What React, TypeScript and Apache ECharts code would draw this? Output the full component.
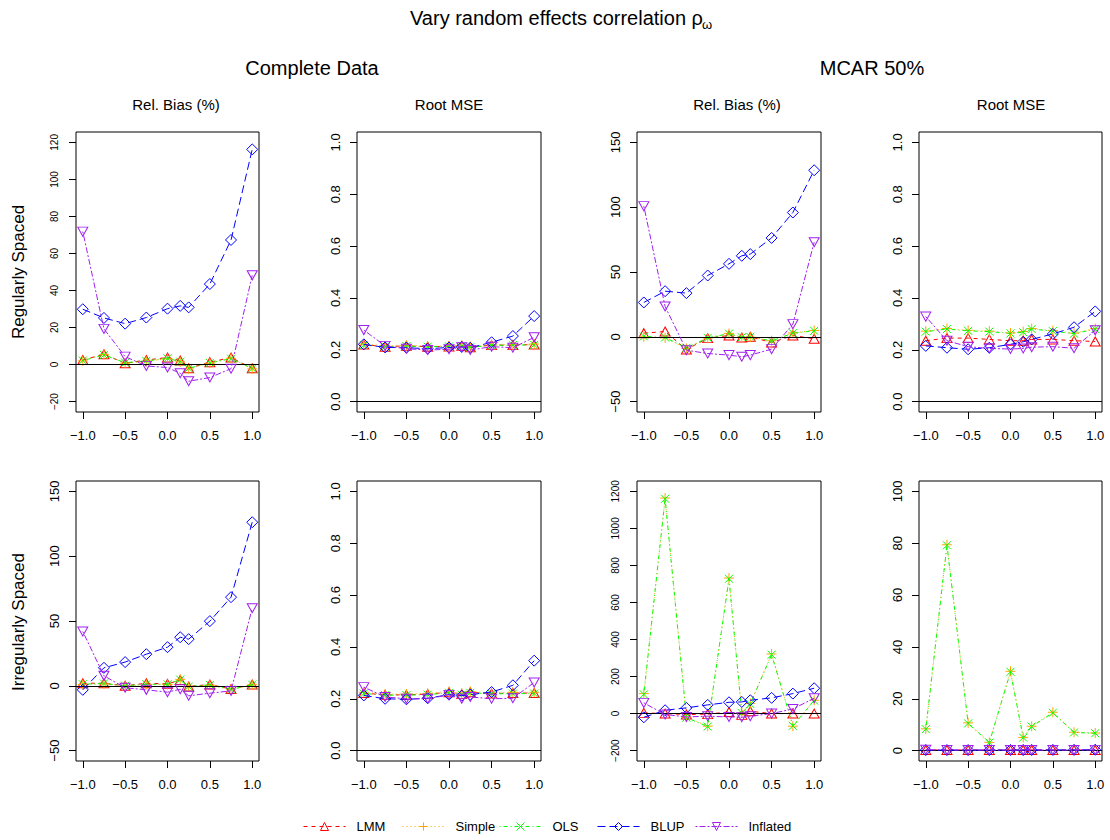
import React, { useEffect, useRef } from 'react';
import * as echarts from 'echarts';

// correlation values on the x axis
const rho = [-1, -0.75, -0.5, -0.25, 0, 0.15, 0.25, 0.5, 0.75, 1];
const methods = ['LMM', 'Simple', 'OLS', 'BLUP', 'Inflated'];

// Complete data, regularly spaced: relative bias (%)
const biasCompReg_LMM = [2.5, 5.6, 0.7, 2.5, 3.8, 2.2, -2.0, 1.3, 3.8, -2.0];
const biasCompReg_Simple = [2.0, 5.5, 0.8, 1.8, 3.2, 1.5, -2.3, 0.8, 3.4, -2.3];
const biasCompReg_OLS = [2.2, 5.2, 1.0, 2.0, 3.4, 1.6, -2.0, 0.9, 3.2, -2.1];
const biasCompReg_BLUP = [29.9, 25.2, 22.1, 25.4, 30.2, 31.7, 30.9, 43.5, 67.3, 116.2];
const biasCompReg_Inflated = [71.8, 19.3, 4.3, -0.7, -1.6, -4.7, -9.0, -7.0, -2.2, 48.2];

// Complete data, regularly spaced: root MSE
const rmseCompReg_LMM = [0.220, 0.212, 0.215, 0.212, 0.213, 0.215, 0.210, 0.218, 0.218, 0.220];
const rmseCompReg_Simple = [0.222, 0.215, 0.217, 0.214, 0.215, 0.217, 0.212, 0.220, 0.220, 0.222];
const rmseCompReg_OLS = [0.218, 0.212, 0.214, 0.212, 0.213, 0.214, 0.210, 0.217, 0.218, 0.219];
const rmseCompReg_BLUP = [0.221, 0.209, 0.208, 0.204, 0.209, 0.211, 0.208, 0.229, 0.253, 0.330];
const rmseCompReg_Inflated = [0.276, 0.215, 0.204, 0.199, 0.202, 0.210, 0.199, 0.212, 0.208, 0.248];

// MCAR 50%, regularly spaced: relative bias (%)
const biasMcarReg_LMM = [2.8, 4.1, -9.8, -1.0, 1.0, -0.5, 0.0, -4.4, 1.0, -1.5];
const biasMcarReg_Simple = [0.0, -0.8, -9.0, -1.0, 2.6, -0.5, -0.3, -3.0, 3.0, 4.9];
const biasMcarReg_OLS = [0.3, -0.5, -8.5, -0.8, 2.4, -0.3, 0.0, -3.2, 2.8, 4.6];
const biasMcarReg_BLUP = [26.5, 35.2, 33.7, 47.3, 56.3, 62.5, 63.8, 76.3, 95.9, 128.5];
const biasMcarReg_Inflated = [100.8, 23.4, -10.3, -12.9, -14.1, -15.4, -14.1, -9.5, 9.8, 73.0];

// MCAR 50%, regularly spaced: root MSE
const rmseMcarReg_LMM = [0.235, 0.245, 0.245, 0.240, 0.235, 0.235, 0.240, 0.240, 0.235, 0.232];
const rmseMcarReg_Simple = [0.272, 0.282, 0.275, 0.272, 0.265, 0.270, 0.282, 0.274, 0.264, 0.282];
const rmseMcarReg_OLS = [0.270, 0.280, 0.273, 0.270, 0.263, 0.268, 0.280, 0.272, 0.262, 0.280];
const rmseMcarReg_BLUP = [0.215, 0.208, 0.202, 0.208, 0.221, 0.231, 0.240, 0.261, 0.287, 0.348];
const rmseMcarReg_Inflated = [0.328, 0.235, 0.212, 0.205, 0.203, 0.205, 0.210, 0.212, 0.206, 0.275];

// Complete data, irregularly spaced: relative bias (%)
const biasCompIrr_LMM = [2.0, 2.0, 0.0, 2.0, 1.5, 4.5, -0.5, 1.0, -2.5, 1.0];
const biasCompIrr_Simple = [1.0, 1.5, -0.3, 1.0, 1.0, 5.0, -0.8, 0.5, -3.0, 0.8];
const biasCompIrr_OLS = [1.2, 1.8, 0.0, 1.2, 1.2, 4.8, -0.6, 0.7, -2.8, 0.9];
const biasCompIrr_BLUP = [-3.1, 13.9, 18.3, 24.4, 29.8, 37.5, 36.0, 49.9, 68.4, 126.2];
const biasCompIrr_Inflated = [41.9, 7.7, -1.5, -3.1, -4.9, -2.6, -7.7, -5.7, -3.9, 59.9];

// Complete data, irregularly spaced: root MSE
const rmseCompIrr_LMM = [0.222, 0.215, 0.215, 0.218, 0.225, 0.218, 0.225, 0.220, 0.222, 0.222];
const rmseCompIrr_Simple = [0.225, 0.218, 0.218, 0.221, 0.228, 0.221, 0.228, 0.223, 0.225, 0.225];
const rmseCompIrr_OLS = [0.220, 0.214, 0.214, 0.216, 0.223, 0.216, 0.223, 0.219, 0.220, 0.220];
const rmseCompIrr_BLUP = [0.213, 0.200, 0.198, 0.202, 0.216, 0.212, 0.216, 0.226, 0.252, 0.347];
const rmseCompIrr_Inflated = [0.245, 0.207, 0.200, 0.200, 0.215, 0.200, 0.207, 0.200, 0.202, 0.263];

// MCAR 50%, irregularly spaced: relative bias (%)
const biasMcarIrr_LMM = [4, 0, -5, -3, 9, -7, 13, 0, 0, 0];
const biasMcarIrr_Simple = [108, 1164, -20, -68, 732, 5, 55, 322, -68, 72];
const biasMcarIrr_OLS = [104, 1160, -22, -70, 728, 3, 52, 318, -66, 70];
const biasMcarIrr_BLUP = [-20, 18, 31, 47, 61, 63, 72, 85, 108, 137];
const biasMcarIrr_Inflated = [58, -5, -18, -14, -18, -20, -14, 0, 25, 83];

// MCAR 50%, irregularly spaced: root MSE
const rmseMcarIrr_LMM = [0.24, 0.25, 0.25, 0.24, 0.24, 0.24, 0.25, 0.24, 0.24, 0.23];
const rmseMcarIrr_Simple = [8.4, 79.4, 10.7, 3.2, 30.6, 5.1, 9.4, 14.8, 7.1, 6.8];
const rmseMcarIrr_OLS = [8.3, 79.2, 10.5, 3.1, 30.4, 5.0, 9.3, 14.6, 7.0, 6.7];
const rmseMcarIrr_BLUP = [0.22, 0.21, 0.21, 0.22, 0.23, 0.24, 0.25, 0.27, 0.30, 0.36];
const rmseMcarIrr_Inflated = [0.34, 0.24, 0.22, 0.21, 0.21, 0.21, 0.22, 0.22, 0.21, 0.29];

// y tick labels of each panel
const ticksBiasCompReg = [-20, 0, 20, 40, 60, 80, 100, 120];
const ticksBias150 = [-50, 0, 50, 100, 150];
const ticksRmse = [0, 0.2, 0.4, 0.6, 0.8, 1.0];
const ticksBiasMcarIrr = [-200, 0, 200, 400, 600, 800, 1000, 1200];
const ticksRmseMcarIrr = [0, 20, 40, 60, 80, 100];
const ticksX = [-1, -0.5, 0, 0.5, 1];

const FONT = '"Liberation Sans", Arial, Helvetica, sans-serif';

const colors: Record<string, string> = {
  LMM: '#FF0000', Simple: '#FFA500', OLS: '#00FF00', BLUP: '#0000FF', Inflated: '#A020F0',
};
const symbols: Record<string, string> = {
  LMM: 'path://M5,0L10,8.66L0,8.66Z',
  Simple: 'path://M5,0L5,10M0,5L10,5',
  OLS: 'path://M0,0L10,10M10,0L0,10',
  BLUP: 'path://M5,0L10,5L5,10L0,5Z',
  Inflated: 'path://M0,0L10,0L5,8.66Z',
};
const symbolSizes: Record<string, any> = {
  LMM: [10, 9], Simple: 10, OLS: 8, BLUP: 11, Inflated: [10, 9],
};
const dashes: Record<string, number[]> = {
  LMM: [4, 4], Simple: [1, 3], OLS: [1, 3, 4, 3], BLUP: [8, 4], Inflated: [2, 2, 6, 2],
};

const COLS = [76, 357, 637, 919];
const WIDTHS = [183, 184, 184, 183];
const ROWS = [132, 481];
const H = 280;

const panels = [
  { r: 0, c: 0, min: -25.6, max: 125.6, ticks: ticksBiasCompReg, dec: 0, fs: 10, margin: 17,
    d: [biasCompReg_LMM, biasCompReg_Simple, biasCompReg_OLS, biasCompReg_BLUP, biasCompReg_Inflated] },
  { r: 0, c: 1, min: -0.04, max: 1.04, ticks: ticksRmse, dec: 1, fs: 13, margin: 15,
    d: [rmseCompReg_LMM, rmseCompReg_Simple, rmseCompReg_OLS, rmseCompReg_BLUP, rmseCompReg_Inflated] },
  { r: 0, c: 2, min: -58, max: 158, ticks: ticksBias150, dec: 0, fs: 13, margin: 15,
    d: [biasMcarReg_LMM, biasMcarReg_Simple, biasMcarReg_OLS, biasMcarReg_BLUP, biasMcarReg_Inflated] },
  { r: 0, c: 3, min: -0.04, max: 1.04, ticks: ticksRmse, dec: 1, fs: 13, margin: 15,
    d: [rmseMcarReg_LMM, rmseMcarReg_Simple, rmseMcarReg_OLS, rmseMcarReg_BLUP, rmseMcarReg_Inflated] },
  { r: 1, c: 0, min: -58, max: 158, ticks: ticksBias150, dec: 0, fs: 13, margin: 15,
    d: [biasCompIrr_LMM, biasCompIrr_Simple, biasCompIrr_OLS, biasCompIrr_BLUP, biasCompIrr_Inflated] },
  { r: 1, c: 1, min: -0.04, max: 1.04, ticks: ticksRmse, dec: 1, fs: 13, margin: 15,
    d: [rmseCompIrr_LMM, rmseCompIrr_Simple, rmseCompIrr_OLS, rmseCompIrr_BLUP, rmseCompIrr_Inflated] },
  { r: 1, c: 2, min: -256, max: 1256, ticks: ticksBiasMcarIrr, dec: 0, fs: 10, margin: 17,
    d: [biasMcarIrr_LMM, biasMcarIrr_Simple, biasMcarIrr_OLS, biasMcarIrr_BLUP, biasMcarIrr_Inflated] },
  { r: 1, c: 3, min: -4, max: 104, ticks: ticksRmseMcarIrr, dec: 0, fs: 13, margin: 15,
    d: [rmseMcarIrr_LMM, rmseMcarIrr_Simple, rmseMcarIrr_OLS, rmseMcarIrr_BLUP, rmseMcarIrr_Inflated] },
];

const fmt = (v: number, dec: number) => (dec ? v.toFixed(dec) : String(Math.round(v))).replace('-', '\u2212');

const legendLeft = [303, 402, 499, 597, 695];

function buildOption() {
  const grid: any[] = [];
  const xAxis: any[] = [];
  const yAxis: any[] = [];
  const series: any[] = [];
  panels.forEach((p, i) => {
    grid.push({
      left: COLS[p.c], top: ROWS[p.r], width: WIDTHS[p.c], height: H,
      show: true, borderColor: '#000', borderWidth: 1, backgroundColor: 'transparent',
      containLabel: false,
    });
    xAxis.push({
      type: 'value', gridIndex: i, min: -1.08, max: 1.08, position: 'bottom',
      axisLine: { show: false, onZero: false },
      splitLine: { show: false },
      axisTick: { show: true, inside: false, length: 7, customValues: ticksX, lineStyle: { color: '#000' } },
      axisLabel: {
        show: true, customValues: ticksX, margin: 17, fontSize: 13, color: '#000', fontFamily: FONT,
        formatter: (v: number) => fmt(v, 1),
      },
    });
    yAxis.push({
      type: 'value', gridIndex: i, min: p.min, max: p.max, position: 'left',
      axisLine: { show: false, onZero: false },
      splitLine: { show: false },
      axisTick: { show: true, inside: false, length: 7, customValues: p.ticks, lineStyle: { color: '#000' } },
      axisLabel: {
        show: true, customValues: p.ticks, rotate: 90, margin: p.margin, fontSize: p.fs, color: '#000', fontFamily: FONT,
        formatter: (v: number) => fmt(v, p.dec),
      },
    });
    methods.forEach((m, k) => {
      const s: any = {
        name: m, type: 'line', xAxisIndex: i, yAxisIndex: i,
        data: rho.map((x, j) => [x, p.d[k][j]]),
        symbol: symbols[m], symbolSize: symbolSizes[m], showSymbol: true,
        lineStyle: { color: colors[m], width: 1, type: dashes[m] },
        itemStyle: { color: 'rgba(0,0,0,0)', borderColor: colors[m], borderWidth: 1 },
        emphasis: { disabled: true },
        silent: true,
        z: 2 + k,
      };
      if (k === 0) {
        s.markLine = {
          silent: true, symbol: ['none', 'none'], label: { show: false },
          lineStyle: { color: '#000', type: 'solid', width: 1 },
          emphasis: { disabled: true },
          data: [{ yAxis: 0 }],
        };
      }
      series.push(s);
    });
  });

  const legend = methods.map((m, k) => ({
    data: [m], left: legendLeft[k], top: 820, orient: 'horizontal',
    itemWidth: 42, itemHeight: 10, selectedMode: false, padding: 0,
    lineStyle: { width: 1 },
    itemStyle: { borderWidth: 1 },
    textStyle: { fontSize: 13, color: '#000', fontFamily: FONT, padding: [0, 0, 0, 6] },
  }));

  const txt = (text: string, x: number, y: number, fontSize: number, extra: any = {}) => ({
    type: 'text', x, y, silent: true, ...extra,
    style: { text, fontSize, fontFamily: FONT, fill: '#000', align: extra.align || 'center', verticalAlign: 'middle' },
  });

  const graphic = [
    txt('Vary random effects correlation \u03c1', 410, 18, 20, { align: 'left' }),
    txt('\u03c9', 702, 24, 13, { align: 'left' }),
    txt('Complete Data', 312, 68, 20),
    txt('MCAR 50%', 872, 68, 20),
    txt('Rel. Bias (%)', 176, 104, 15),
    txt('Root MSE', 449, 104, 15),
    txt('Rel. Bias (%)', 737, 104, 15),
    txt('Root MSE', 1011, 104, 15),
    txt('Regularly Spaced', 18, 272, 17, { rotation: Math.PI / 2 }),
    txt('Irregularly Spaced', 18, 622, 17, { rotation: Math.PI / 2 }),
  ];

  return {
    animation: false,
    backgroundColor: '#fff',
    textStyle: { fontFamily: FONT },
    grid, xAxis, yAxis, series, legend, graphic,
  };
}

export default function App() {
  const ref = useRef<HTMLDivElement>(null);
  useEffect(() => {
    if (!ref.current) return;
    const chart = echarts.init(ref.current, undefined, { renderer: 'svg' });
    chart.setOption(buildOption() as any);
    return () => chart.dispose();
  }, []);
  return <div ref={ref} style={{ position: 'absolute', left: 0, top: 0, width: 1110, height: 840 }} />;
}
